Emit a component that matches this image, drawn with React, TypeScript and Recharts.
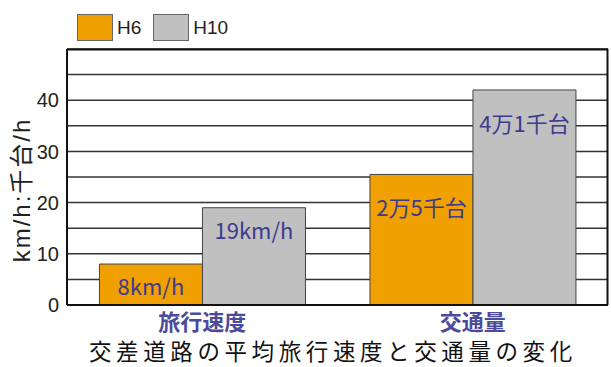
import { BarChart, Bar, XAxis, YAxis, CartesianGrid, LabelList } from "recharts";

const categories = ["旅行速度", "交通量"];
const h6Values = [8, 25.5];
const h10Values = [19, 42];
const h6Labels = ["8km/h", "2万5千台"];
const h10Labels = ["19km/h", "4万1千台"];
const yTicks = [0, 5, 10, 15, 20, 25, 30, 35, 40, 45, 50];
const seriesNames = ["H6", "H10"];
const title = "交差道路の平均旅行速度と交通量の変化";
const yTitle = "km/h:千台/h";

const ORANGE = "#f0a000";
const GRAY = "#c0c0c0";
const LABEL_COLOR = "#3d3b8e";

const data = categories.map((c, i) => ({
  name: c,
  h6: h6Values[i],
  h10: h10Values[i],
  h6Label: h6Labels[i],
  h10Label: h10Labels[i],
}));

function LegendBox() {
  const colors = [ORANGE, GRAY];
  return (
    <div
      style={{
        position: "absolute",
        left: 77,
        top: 14,
        display: "flex",
        gap: 12,
        fontFamily: "'Liberation Sans', sans-serif",
        fontSize: 19,
        color: "#222",
      }}
    >
      {seriesNames.map((n, i) => (
        <div key={n} style={{ display: "flex", alignItems: "center" }}>
          <span
            style={{
              display: "inline-block",
              width: 36,
              height: 27,
              background: colors[i],
              border: "1px solid #666",
              boxSizing: "border-box",
              marginRight: 4,
            }}
          />
          {n}
        </div>
      ))}
    </div>
  );
}

// speed labels sit a bit closer to the bar top than the traffic ones
function BarLabel(props: any) {
  const { x, y, width, value, index } = props;
  const dy = index === 0 ? 31 : 42;
  return (
    <text
      x={x + width / 2}
      y={y + dy}
      textAnchor="middle"
      fill={LABEL_COLOR}
      fontSize={22}
      fontFamily="'Liberation Sans Narrow', 'Noto Sans CJK JP', sans-serif"
    >
      {value}
    </text>
  );
}

export default function App() {
  return (
    <div style={{ position: "relative", width: 611, height: 367, background: "#fff" }}>
      <style>{"body{margin:0}"}</style>
      <BarChart
        width={611}
        height={367}
        data={data}
        margin={{ top: 49, right: 3, left: 0, bottom: 32 }}
        barCategoryGap="12%"
        barGap={0}
      >
        <CartesianGrid vertical={false} stroke="#333" strokeWidth={1.5} />
        <XAxis
          dataKey="name"
          height={30}
          axisLine={{ stroke: "#111", strokeWidth: 2 }}
          tickLine={false}
          tick={{ fill: "#4b4a9c", fontSize: 22, fontWeight: 700, fontFamily: "'Noto Sans CJK JP', sans-serif" }}
          tickMargin={3}
        />
        <YAxis
          width={67}
          domain={[0, 50]}
          ticks={yTicks}
          interval={0}
          axisLine={{ stroke: "#111", strokeWidth: 2 }}
          tickLine={false}
          tickMargin={2}
          tick={{ fill: "#222", fontSize: 20, fontFamily: "'Liberation Sans', sans-serif" }}
          tickFormatter={(v: number) => (v % 10 === 0 && v < 50 ? String(v) : "")}
        />
        <Bar dataKey="h6" name="H6" fill={ORANGE} stroke="#444" strokeWidth={1} isAnimationActive={false}>
          <LabelList dataKey="h6Label" content={BarLabel} />
        </Bar>
        <Bar dataKey="h10" name="H10" fill={GRAY} stroke="#444" strokeWidth={1} isAnimationActive={false}>
          <LabelList dataKey="h10Label" content={BarLabel} />
        </Bar>
      </BarChart>
      <svg style={{ position: "absolute", left: 0, top: 0, pointerEvents: "none" }} width={611} height={367}>
        <line x1={67} y1={49.5} x2={608} y2={49.5} stroke="#111" strokeWidth={2} />
        <line x1={607.5} y1={49} x2={607.5} y2={305} stroke="#111" strokeWidth={2} />
        <text
          transform="translate(30 190) rotate(-90)"
          textAnchor="middle"
          fill="#222"
          fontSize={24}
          letterSpacing={2}
          fontFamily="'Liberation Sans', 'Noto Sans CJK JP', sans-serif"
        >
          {yTitle}
        </text>
        <text
          x={89}
          y={360}
          fill="#111"
          fontSize={22.5}
          letterSpacing={4.6}
          fontFamily="'Noto Sans CJK JP', sans-serif"
        >
          {title}
        </text>
      </svg>
      <LegendBox />
    </div>
  );
}
